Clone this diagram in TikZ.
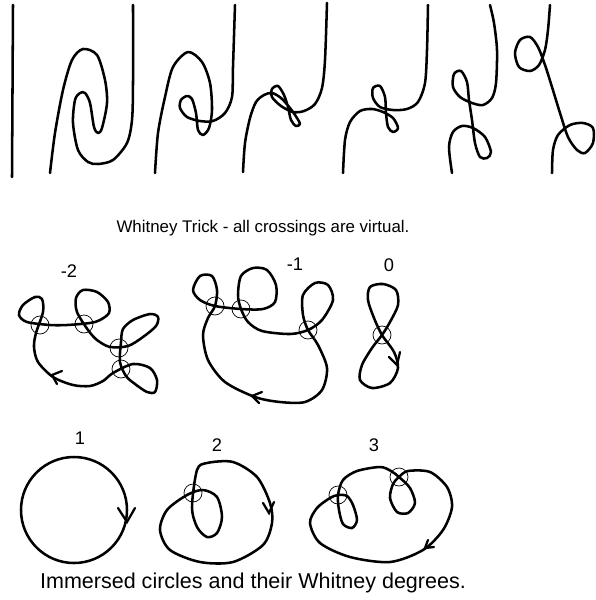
\documentclass[tikz,border=0pt]{standalone}
\usepackage{fontspec}
\setmainfont{Liberation Sans}
\usepackage{tikz}
\tikzset{
  curve/.style={line width=1.8pt, line join=round, line cap=round},
  virt/.style={line width=0.5pt},
  chev/.style={line width=1.6pt, line cap=round, line join=miter},
  lbl/.style={inner sep=0pt, font=\fontsize{13}{15}\selectfont},
  caption/.style={inner sep=0pt}
}

\begin{document}
\begin{tikzpicture}[x=0.025cm, y=-0.025cm]
\useasboundingbox (0,0) rectangle (595,600);

% Whitney trick sequence
\draw[curve] (13,5) -- (12,177);
\draw[curve] plot[smooth] coordinates {(50,173) (55,133) (63,90) (72,60) (83,49) (97,55) (105,80) (107,103) (102,128) (98,133) (94,127) (90,103) (85,93) (80,93) (75,100) (73,123) (78,150) (88,162) (98,164) (113,160) (127,143) (132,120) (133,83) (133,5)};
\draw[curve] plot[smooth] coordinates {(155,173) (158,133) (165,97) (173,67) (188,52) (202,62) (210,83) (212,110) (209,128) (203,135) (198,130) (196,113) (192,99) (187,96) (181,100) (180,108) (187,117) (200,121) (213,121) (225,113) (232,97) (233,67) (235,5)};
\draw[curve] plot[smooth] coordinates {(243,172) (245,143) (250,118) (256,102) (264,95) (272,93) (281,98) (290,108) (297,118) (300,124) (296,126) (291,120) (288,107) (284,95) (278,86) (272,89) (272,97) (281,106) (293,112) (304,111) (315,104) (322,88) (325,60) (327,3)};
\draw[curve] plot[smooth] coordinates {(343,173) (345,140) (350,122) (360,111) (372,109) (383,112) (393,118) (398,128) (393,132) (388,127) (386,113) (385,97) (380,86) (373,88) (373,98) (380,107) (393,110) (407,109) (418,102) (425,83) (427,50) (428,5)};
\draw[curve] plot[smooth] coordinates {(452,173) (449,147) (453,132) (462,126) (473,128) (485,137) (491,152) (487,158) (480,157) (475,143) (472,120) (469,100) (467,82) (461,71) (454,74) (453,87) (460,97) (472,103) (483,105) (492,98) (496,83) (497,50) (494,23) (490,5)};
\draw[curve] plot[smooth] coordinates {(552,173) (553,150) (558,135) (570,125) (583,123) (593,128) (593,143) (585,153) (577,150) (568,137) (560,113) (552,87) (545,65) (538,47) (530,37) (520,40) (515,53) (519,67) (530,71) (539,65) (545,50) (548,30) (550,5)};

\node[caption, font=\fontsize{12}{14}\selectfont] (trick) at (263,228) {Whitney Trick - all crossings are virtual.};

% Degree -2
\node[lbl] (m2) at (69,271) {-2};
\draw[curve] plot[smooth cycle] coordinates {(133,364) (150,368) (157,380) (155,392) (147,392) (135,384) (126,376) (120,362) (121,342) (123,329) (133,320) (150,314) (158,317) (156,326) (143,337) (128,346) (110,347) (97,340) (88,330) (77,312) (76,298) (83,290) (97,292) (108,302) (109,313) (100,320) (90,323) (67,325) (50,325) (27,322) (19,315) (23,305) (35,297) (42,299) (43,312) (36,333) (34,347) (38,362) (53,377) (73,385) (90,386) (103,381) (113,373)};
\foreach \cx/\cy in {40/325, 84/324, 119/348, 121/369}
  \draw[virt] (\cx,\cy) circle (9);
\draw[chev] (62,371) -- (52,375) -- (57,384);

% Degree -1
\node[lbl] (m1) at (295,264) {-1};
\draw[curve] plot[smooth cycle] coordinates {(217,290) (212,276) (200,276) (193,290) (200,300) (215,306) (241,309) (263,309) (275,302) (276,285) (267,270) (253,268) (241,276) (238,295) (241,309) (248,322) (262,331) (290,334) (308,330) (322,320) (333,300) (328,285) (315,283) (303,295) (303,315) (308,330) (318,345) (327,368) (322,390) (305,402) (280,402) (255,397) (225,382) (208,360) (203,335) (208,318) (215,306)};
\foreach \cx/\cy in {215/306, 241/309, 308/330}
  \draw[virt] (\cx,\cy) circle (9);
\draw[chev] (262,392) -- (252,396) -- (259,403);

% Degree 0
\node[lbl] (z0) at (389,265) {0};
\draw[curve] plot[smooth cycle] coordinates {(370,287) (383,284) (396,290) (398,305) (390,322) (382,335) (372,348) (362,365) (360,380) (372,388) (390,383) (398,368) (394,352) (382,335) (374,318) (368,300)};
\draw[virt] (382,335) circle (9);
\draw[chev] (389,357) -- (397,365) -- (400,352);

% Degree 1
\node[lbl] (p1) at (80,438) {1};
\draw[curve] (74,510) circle (53);
\draw[chev] (118,508) -- (127,522) -- (135,508);

% Degree 2
\node[lbl] (p2) at (217,445) {2};
\draw[curve] plot[smooth cycle] coordinates {(197,470) (207,463) (233,462) (257,477) (270,503) (272,523) (263,545) (233,562) (200,562) (170,550) (160,530) (167,510) (187,495) (203,490) (217,497) (222,517) (217,533) (207,537) (197,527) (192,507)};
\draw[virt] (193,493) circle (9);
\draw[chev] (263,503) -- (269,513) -- (274,502);

% Degree 3
\node[lbl] (p3) at (374,445) {3};
\draw[curve] plot[smooth cycle] coordinates {(343,480) (357,471) (380,467) (391,471) (399,477) (410,488) (415,503) (408,513) (397,512) (390,498) (393,484) (399,477) (408,471) (430,472) (447,487) (452,507) (443,530) (423,550) (390,562) (350,557) (320,543) (310,523) (317,508) (330,498) (338,495) (347,496) (353,505) (357,520) (352,528) (343,524) (339,510) (338,495)};
\foreach \cx/\cy in {338/495, 399/477}
  \draw[virt] (\cx,\cy) circle (9);
\draw[chev] (428,540) -- (425,548) -- (434,547);

\node[caption, font=\fontsize{15.3}{18}\selectfont] (degrees) at (253,583) {Immersed circles and their Whitney degrees.};
\end{tikzpicture}
\end{document}
